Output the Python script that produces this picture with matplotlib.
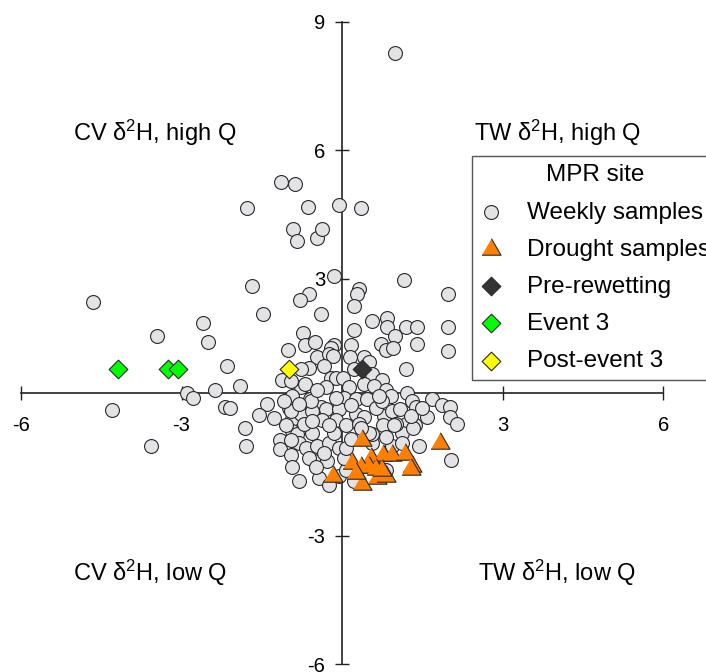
import matplotlib
matplotlib.use("Agg")
import matplotlib.pyplot as plt

plt.rcParams['font.family'] = ['Liberation Sans', 'DejaVu Sans']
plt.rcParams['mathtext.fontset'] = 'custom'
plt.rcParams['mathtext.rm'] = 'Liberation Sans'
plt.rcParams['mathtext.it'] = 'Liberation Sans'
plt.rcParams['axes.unicode_minus'] = False

# weekly samples (x, y)
weekly_x = [0.99, -4.66, -4.30, -3.58, -3.45, -2.59, -2.50, -2.16, -2.89, -2.79,
            -2.38, -2.18, -1.90, -1.81, -1.79, -1.69, -1.77, -1.47, -1.15, -0.88,
            -0.91, -0.84, -0.63, -0.47, -0.37, -0.06, 0.35, -0.15, 0.32, 0.28,
            0.22, -0.61, -0.78, 1.15, 1.97, 1.97, 1.97, -0.39, 0.56, 0.84,
            0.84, 1.19, 1.40, 0.22, 0.99, -0.73, -0.69, -0.50, -0.15, -0.20,
            0.17, 0.73, 0.82, 0.95, 1.40, -1.02, -0.47, -0.24, -0.17, 0.15,
            0.41, 0.50, 1.19, -0.61, -0.76, -1.12, -0.20, -0.11, 0.02, 0.56,
            0.74, 0.13, 0.41, 0.60, -0.30, 0.82, -0.76, -0.69, -0.93, -0.60,
            0.04, 0.26, 0.47, 0.91, 1.21, 1.30, 1.38, 1.68, 1.86, 2.01,
            -2.10, -1.40, -1.56, -1.27, -0.99, -0.39, -0.30, -0.06, 0.26, 0.41,
            0.78, 0.93, 1.08, 1.19, 1.36, 1.58, 2.01, 2.14, -0.93, -0.76,
            -0.56, -0.93, -0.84, -0.56, -0.37, -0.11, 0.07, 0.76, 1.12, 1.32,
            -1.17, -1.17, -0.95, -0.80, -0.67, -0.47, -0.24, -0.06, 0.56, 0.93,
            2.03, -0.93, -0.80, -0.52, -0.43, -0.06, 0.07, 0.82, -0.28, 0.04,
            -0.95, -0.58, -0.11, 0.63, 0.74, 1.01, 0.56, 0.82, 1.12, -0.61,
            -0.95, -0.48, 0.07, -0.80, -1.08, -0.71, -0.56, 0.32, 0.50, 1.28,
            1.49, -0.34, -0.15, 0.17, 0.35, 0.97, 1.43, -1.04, -0.24, 0.17,
            0.69, -0.47, -0.95, 0.22, -0.34, 0.22, -0.24]
weekly_y = [8.28, 2.46, -0.06, -0.90, 1.65, 1.97, 1.51, 0.97, 0.34, 0.22,
            0.39, 0.01, 0.50, -0.50, -0.90, 2.82, 4.66, 2.18, 5.25, 5.20,
            4.17, 3.89, 4.68, 3.94, 4.17, 4.73, 4.66, 3.05, 2.75, 2.65,
            2.37, 2.63, 2.49, 2.96, 2.65, 1.86, 1.30, 2.18, 2.02, 2.07,
            1.86, 1.88, 1.86, 1.79, 1.67, 1.72, 1.44, 1.53, 1.44, 1.37,
            1.44, 1.48, 1.34, 1.39, 1.48, 1.34, 1.16, 1.25, 1.20, 1.16,
            1.16, 1.06, 0.88, 0.92, 0.88, 0.64, 0.69, 0.69, 0.69, 0.78,
            0.64, 0.46, 0.55, 0.50, 0.46, 0.39, 0.46, 0.55, 0.27, 0.20,
            0.22, 0.20, 0.20, 0.27, 0.34, 0.15, 0.01, 0.20, 0.04, 0.01,
            -0.01, 0.08, -0.18, -0.25, -0.01, 0.01, -0.04, -0.04, -0.15, -0.22,
            -0.20, -0.08, -0.04, -0.39, -0.43, -0.22, -0.22, -0.39, -0.27, -0.15,
            -0.08, -0.55, -0.62, -0.60, -0.29, -0.29, -0.43, -0.43, -0.60, -0.48,
            -0.78, -0.97, -1.13, -0.85, -0.95, -0.92, -0.85, -0.95, -0.83, -0.90,
            -1.23, -1.41, -1.72, -1.25, -1.65, -1.60, -1.48, -1.48, -1.25, -1.18,
            -0.08, 0.15, 0.22, -0.01, 0.15, -0.39, -0.62, -0.71, -0.85, -1.18,
            -0.78, -1.41, -0.95, 0.08, 0.15, -0.39, -0.32, -0.39, -0.60, -0.20,
            -0.01, -1.07, -0.60, -0.74, -0.50, -0.43, -0.90, -0.43, -0.43, 0.04,
            0.27, 0.39, 0.62, 0.90, 0.97, -1.72, -1.83]

drought_x = [0.37, 1.82, 0.54, 0.76, 0.93, 1.17, 0.19, 0.35, 0.50, 1.30,
             1.28, -0.17, 0.37, 0.65, 0.82, 0.63, 0.26, 0.74]
drought_y = [-0.78, -0.85, -1.18, -1.13, -1.13, -1.09, -1.30, -1.41, -1.41, -1.37,
             -1.44, -1.60, -1.79, -1.65, -1.60, -1.44, -1.55, -1.48]

prewet_x = [0.38]
prewet_y = [0.88]
event3_x = [-4.19, -3.26, -3.07]
event3_y = [0.88, 0.88, 0.88]
post3_x = [-0.99]
post3_y = [0.88]

xticks = [-6, -3, 3, 6]
yticks = [-6, -3, 3, 6, 9]

fig = plt.figure(figsize=(7.06, 6.72), dpi=100)
ax = fig.add_axes([0.0297, 0.0119, 0.9098, 0.9558])
ax.set_xlim(-6, 6)
ax.set_ylim(-6, 9)

tri = [(-1, -0.6), (1, -0.6), (0, 1.13)]
ek = '#2a2a2a'
h1 = ax.scatter(weekly_x, weekly_y, s=100, marker='o', facecolor='#e3e3e5',
                edgecolor=ek, linewidth=0.8, zorder=3, label='Weekly samples')
h2 = ax.scatter(drought_x, drought_y, s=240, marker=tri, facecolor='#ff7f00',
                edgecolor=ek, linewidth=0.8, zorder=4, label='Drought samples')
h3 = ax.scatter(prewet_x, prewet_y, s=90, marker='D', facecolor='#333333',
                edgecolor=ek, linewidth=0.8, zorder=5, label='Pre-rewetting')
h4 = ax.scatter(event3_x, event3_y, s=90, marker='D', facecolor='#00ff00',
                edgecolor=ek, linewidth=0.8, zorder=5, label='Event 3')
h5 = ax.scatter(post3_x, post3_y, s=90, marker='D', facecolor='#ffff00',
                edgecolor=ek, linewidth=0.8, zorder=5, label='Post-event 3')

# axes crossing in the middle
for s in ['top', 'right']:
    ax.spines[s].set_visible(False)
ax.spines['left'].set_position(('data', 0))
ax.spines['bottom'].set_position(('data', 0.32))
for s in ['left', 'bottom']:
    ax.spines[s].set_color('#222222')
    ax.spines[s].set_linewidth(1.2)
    ax.spines[s].set_zorder(2)

ax.set_xticks(xticks)
ax.set_yticks(yticks)
ax.set_xticklabels([str(t) for t in xticks])
ax.set_yticklabels([str(t) for t in yticks])
ax.tick_params(axis='x', direction='inout', length=10, width=1, pad=11,
               labelsize=14.5, colors='#222222', labelcolor='black')
ax.tick_params(axis='y', direction='inout', length=10, width=1, pad=7,
               labelsize=14.5, colors='#222222', labelcolor='black')
ax.get_yticklabels()[0].set_va('center_baseline')

fs = 17
ax.text(-5.03, 6.40, r'CV δ$^{2}$H, high Q', fontsize=fs, va='center', ha='left')
ax.text(2.47, 6.40, r'TW δ$^{2}$H, high Q', fontsize=fs, va='center', ha='left')
ax.text(-5.03, -3.88, r'CV δ$^{2}$H, low Q', fontsize=fs, va='center', ha='left')
ax.text(2.54, -3.88, r'TW δ$^{2}$H, low Q', fontsize=fs, va='center', ha='left')

leg = fig.legend(handles=[h1, h2, h3, h4, h5], title='MPR site',
                 loc='upper left', bbox_to_anchor=(0.6686, 0.7679),
                 bbox_transform=fig.transFigure, borderaxespad=0,
                 fontsize=17.5, title_fontsize=17.5, fancybox=False,
                 framealpha=1, edgecolor='#555555', borderpad=0.35,
                 handlelength=0.9, handletextpad=1.0, labelspacing=0.62,
                 scatterpoints=1)
leg.get_frame().set_linewidth(1.0)

fig.savefig('out.png', dpi=100)
